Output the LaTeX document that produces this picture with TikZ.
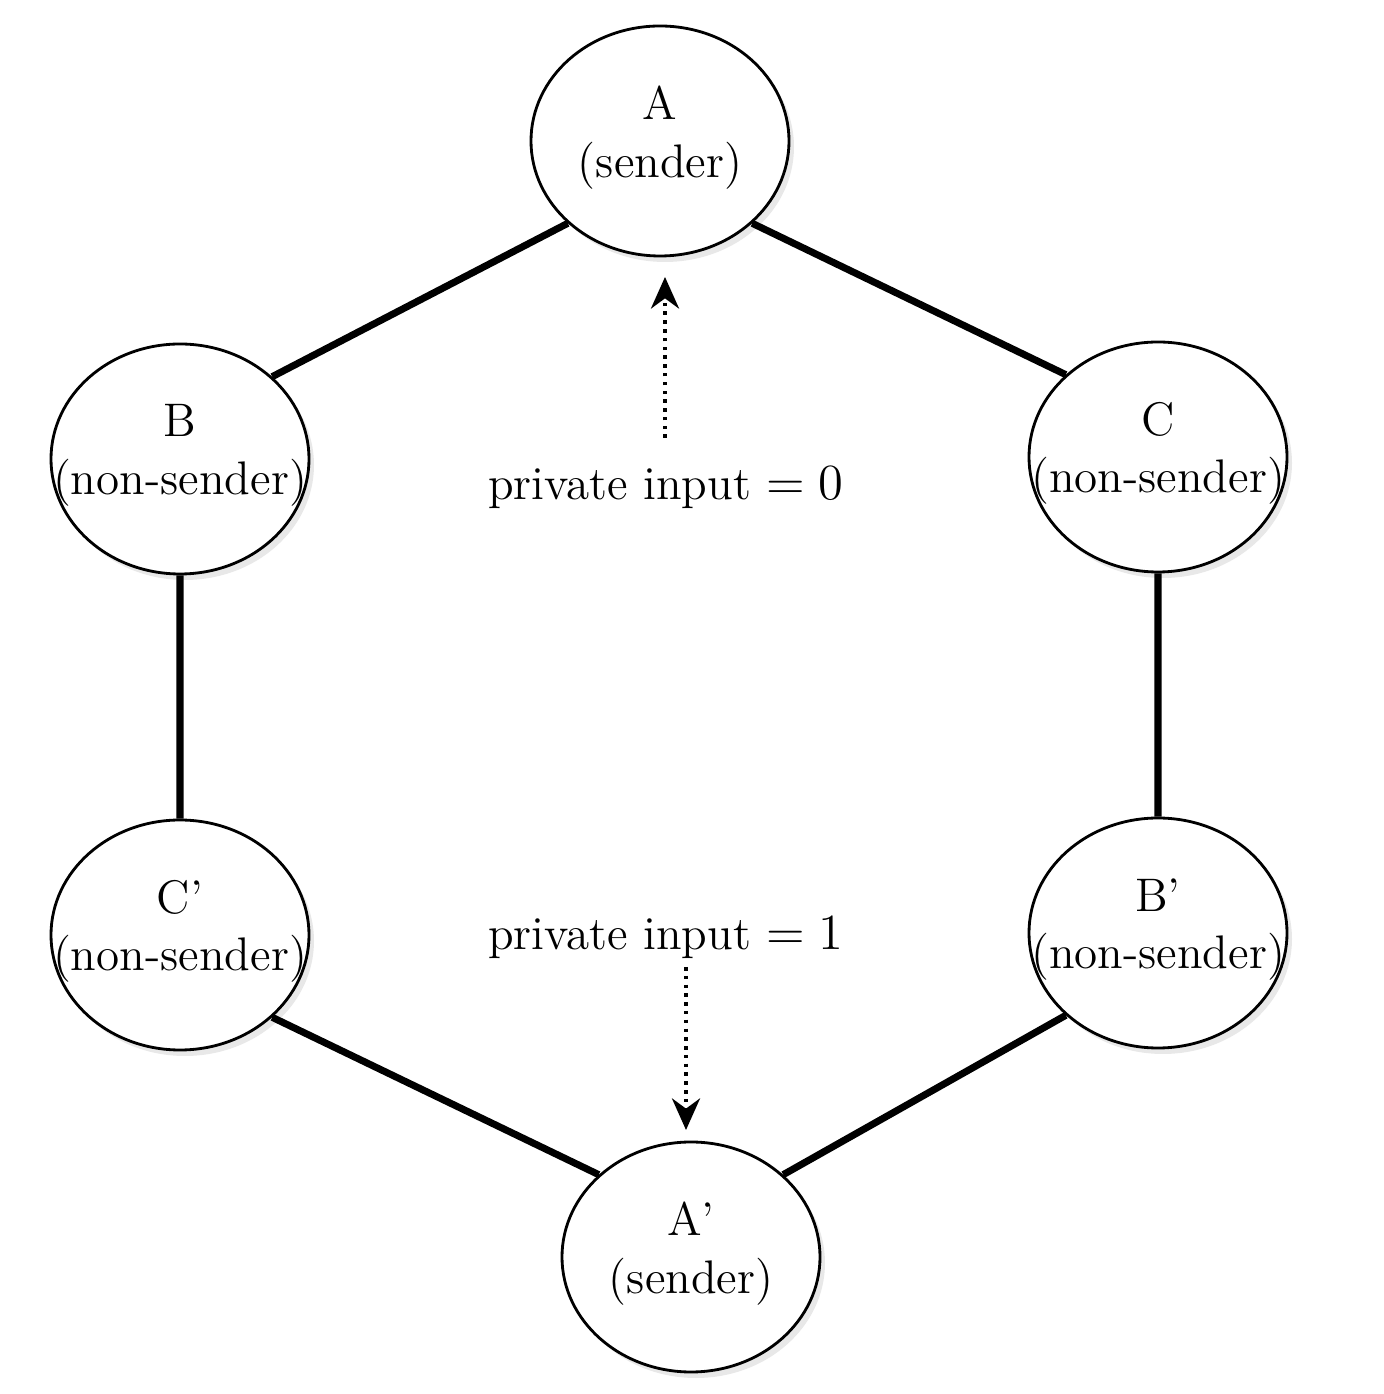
\documentclass[tikz,border=0pt]{standalone}
\usetikzlibrary{shapes.geometric,shadows,arrows.meta}
\begin{document}
\begin{tikzpicture}
	\tikzstyle{party}=[draw, ellipse, line width=0.8pt, fill=white, inner sep=0pt,
	                   minimum width=2.58cm, minimum height=2.3cm,
	                   drop shadow={opacity=0.18, shadow xshift=0.5mm, shadow yshift=-0.6mm}]
	\tikzstyle{who}=[align=center, inner sep=0pt, font=\fontsize{13.4}{16.4}\selectfont]
	\tikzstyle{link}=[line width=2pt]
	\tikzstyle{input}=[line width=1pt, dash pattern=on 1pt off 1.5pt,
	                   -{Stealth[length=9pt,width=8pt]}]
	\useasboundingbox (0,0) rectangle (13.84,13.94);
	\path (6.60,12.53) node[party, label={[who,yshift=1pt]center:{A\\(sender)}}] (A) {}
	      (1.80,9.35) node[party, label={[who,yshift=1pt]center:{B\\(non-sender)}}] (B) {}
	      (11.58,9.37) node[party, label={[who,yshift=1pt]center:{C\\(non-sender)}}] (C) {}
	      (1.80,4.59) node[party, label={[who,yshift=1pt]center:{C'\\(non-sender)}}] (Cp) {}
	      (11.58,4.61) node[party, label={[who,yshift=1pt]center:{B'\\(non-sender)}}] (Bp) {}
	      (6.91,1.37) node[party, label={[who,yshift=1pt]center:{A'\\(sender)}}] (Ap) {};
	\path (6.66,9.06) node[who] (in0) {private input $=0$}
	      (6.66,4.56) node[who] (in1) {private input $=1$};
	\coordinate (s0) at (6.65,9.56);
	\coordinate (t0) at (6.65,11.17);
	\coordinate (s1) at (6.86,4.27);
	\coordinate (t1) at (6.86,2.64);
	\draw[link] (A.south west) -- (B.north east)
	            (A.south east) -- (C.north west)
	            (B.south) -- (Cp.north)
	            (C.south) -- (Bp.north)
	            (Cp.south east) -- (Ap.north west)
	            (Bp.south west) -- (Ap.north east);
	\draw[input] (s0) -- (t0);
	\draw[input] (s1) -- (t1);
\end{tikzpicture}
\end{document}
